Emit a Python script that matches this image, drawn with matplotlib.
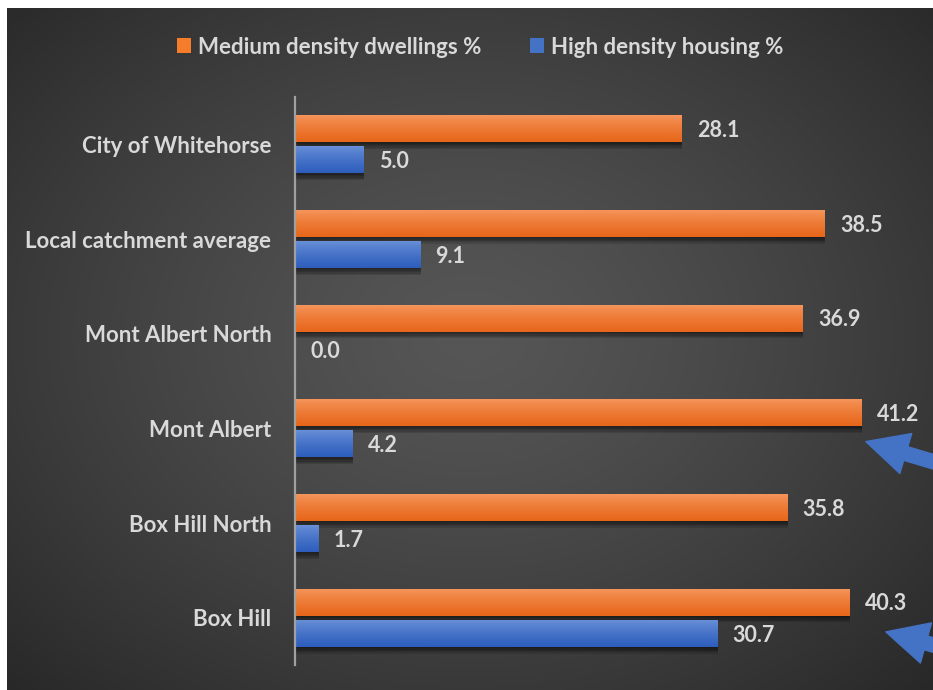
import numpy as np
import matplotlib
matplotlib.use('Agg')
import matplotlib.pyplot as plt
from matplotlib import patheffects

plt.rcParams['font.family'] = ['Lato', 'DejaVu Sans']

# Datos (de abajo hacia arriba)
categorias = ['Box Hill', 'Box Hill North', 'Mont Albert', 'Mont Albert North',
              'Local catchment average', 'City of Whitehorse']
medium = [40.3, 35.8, 41.2, 36.9, 38.5, 28.1]
high = [30.7, 1.7, 4.2, 0.0, 9.1, 5.0]
series = ['Medium density dwellings %', 'High density housing %']

# flechas que señalan Mont Albert y Box Hill
flechas = [('Mont Albert', 41.5, -0.14), ('Box Hill', 42.95, -0.15)]

texto = '#d9d9d9'
naranja = '#f47c2a'
azul = '#4472c4'
tam = 15.5

fig = plt.figure(figsize=(9.33, 6.9), dpi=100, facecolor='white')

# fondo oscuro con degradado radial
fondo = fig.add_axes([7 / 933, 0, 926 / 933, 682 / 690])
fondo.set_axis_off()
gx, gy = np.meshgrid(np.linspace(0, 1, 400), np.linspace(0, 1, 300))
r = np.sqrt(((gx - 0.5) / 0.72) ** 2 + ((gy - 0.52) / 0.75) ** 2)
r = np.clip(r, 0, 1)
gris = (0x56 - (0x56 - 0x27) * r ** 1.3) / 255
fondo.imshow(np.dstack([gris, gris, gris]), aspect='auto', extent=[0, 1, 0, 1],
             origin='lower', interpolation='bicubic')
fondo.set_xlim(0, 1)
fondo.set_ylim(0, 1)

ax = fig.add_axes([295 / 933, 25 / 690, 619 / 933, 568 / 690])
ax.set_facecolor('none')

y = np.arange(len(categorias))
alto = 0.285
sep = 0.165

# sombra difusa bajo cada barra
sombra = [patheffects.SimplePatchShadow(offset=(0.5, -k), shadow_rgbFace='black', alpha=0.13)
          for k in (1, 2, 3, 4, 5)] + [patheffects.Normal()]


def gradiente(c_arriba, c_abajo):
    a = np.array(matplotlib.colors.to_rgb(c_arriba))
    b = np.array(matplotlib.colors.to_rgb(c_abajo))
    t = np.linspace(0, 1, 50)[:, None]
    t = t ** 0.8
    return (a * (1 - t) + b * t)[:, None, :]


grad_naranja = gradiente('#f5965c', '#e7661a')
grad_azul = gradiente('#6a90d8', '#2d5ebd')

for valores, desplaz, color, grad in [(medium, sep, naranja, grad_naranja),
                                      (high, -sep, azul, grad_azul)]:
    barras = ax.barh(y + desplaz, valores, height=alto, color=color, zorder=2)
    for b, v in zip(barras, valores):
        b.set_path_effects(sombra)
        if v > 0:
            ax.imshow(grad, aspect='auto', zorder=3,
                      extent=[0, v, b.get_y(), b.get_y() + alto], origin='upper')
        ax.annotate(f'{v:.1f}', (v, b.get_y() + alto / 2 - 0.02), xytext=(11, 0),
                    textcoords='offset points', va='center', ha='left',
                    color=texto, fontsize=tam, fontweight='bold')

ax.set_xlim(0, 45)
ax.set_ylim(-0.5, len(categorias) - 0.5)
ax.set_yticks(y)
ax.set_yticklabels(categorias, color=texto, fontsize=16, fontweight='bold')
ax.tick_params(axis='y', length=0, pad=17)
ax.set_xticks([])
for lado in ['top', 'right', 'bottom']:
    ax.spines[lado].set_visible(False)
ax.spines['left'].set_color('#a0a0a0')
ax.spines['left'].set_linewidth(1.6)
ax.spines['left'].set_zorder(5)

# leyenda arriba
h1 = plt.Rectangle((0, 0), 1, 1, facecolor=naranja)
h2 = plt.Rectangle((0, 0), 1, 1, facecolor=azul)
leg = fig.legend([h1, h2], series, loc='center', ncol=2, frameon=False,
                 bbox_to_anchor=(480 / 933, 1 - 47 / 690),
                 handlelength=0.65, handleheight=0.65, handletextpad=0.3,
                 columnspacing=2.2, prop={'weight': 'bold', 'size': 16})
for t in leg.get_texts():
    t.set_color(texto)

# flechas azules
for cat, xv, dy in flechas:
    i = categorias.index(cat)
    tip = (xv, y[i] + dy)
    if cat == 'Mont Albert':
        cola = (981 / 933, 1 - 476 / 690)
    else:
        cola = (1002 / 933, 1 - 664 / 690)
    ax.annotate('', xy=tip, xycoords='data', xytext=cola, textcoords='figure fraction',
                annotation_clip=False,
                arrowprops=dict(arrowstyle='simple,head_length=1,head_width=1,tail_width=0.34',
                                mutation_scale=30, color='#4472c4', shrinkA=0, shrinkB=0),
                zorder=6)

fig.savefig('out.png', dpi=100, facecolor=fig.get_facecolor())
